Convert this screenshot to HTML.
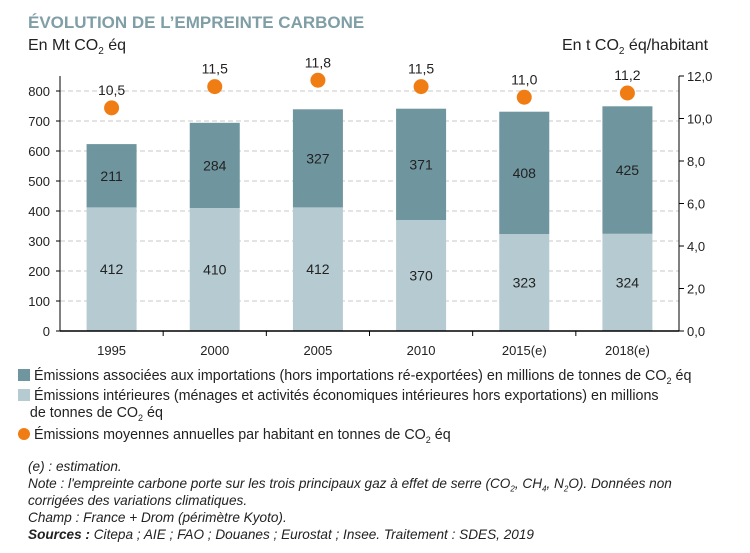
<!DOCTYPE html>
<html><head><meta charset="utf-8"><style>
body{margin:0;background:#fff;width:750px;height:553px;overflow:hidden;font-family:"Liberation Sans",sans-serif;position:relative}
.t{position:absolute;white-space:nowrap}
.lg{position:absolute;left:18px;font-size:14.3px;color:#222;white-space:nowrap;line-height:17px}
.nt{position:absolute;left:28px;font-size:13.6px;font-style:italic;color:#222;white-space:nowrap;line-height:17px}
</style></head><body>
<div class="t" style="left:28px;top:13px;font-size:17px;font-weight:bold;color:#7f9ea6">ÉVOLUTION DE L’EMPREINTE CARBONE</div>
<div class="t" style="left:28px;top:37px;font-size:16px;color:#222">En Mt CO<sub style="font-size:10px">2</sub> éq</div>
<div class="t" style="left:562px;top:37px;font-size:16px;color:#222">En t CO<sub style="font-size:10px">2</sub> éq/habitant</div>
<svg id="chart" width="750" height="360" style="position:absolute;left:0;top:0"></svg>
<div class="lg" style="top:368px"><span style="display:inline-block;width:12px;height:12px;background:#6f959f;vertical-align:-1px"></span> Émissions associées aux importations (hors importations ré-exportées) en millions de tonnes de CO<sub style="font-size:9px">2</sub> éq</div>
<div class="lg" style="top:388px"><span style="display:inline-block;width:12px;height:12px;background:#b5cbd1;vertical-align:-1px"></span> Émissions intérieures (ménages et activités économiques intérieures hors exportations) en millions<br>&nbsp;&nbsp;&nbsp;de tonnes de CO<sub style="font-size:9px">2</sub> éq</div>
<div class="lg" style="top:427px"><span style="display:inline-block;width:12px;height:12px;border-radius:50%;background:#f07d14;vertical-align:-1px"></span> Émissions moyennes annuelles par habitant en tonnes de CO<sub style="font-size:9px">2</sub> éq</div>
<div class="nt" style="top:458px">(e) : estimation.</div>
<div class="nt" style="top:475px">Note : l'empreinte carbone porte sur les trois principaux gaz à effet de serre (CO<sub style="font-size:8px;line-height:0">2</sub>, CH<sub style="font-size:8px;line-height:0">4</sub>, N<sub style="font-size:8px;line-height:0">2</sub>O). Données non<br>corrigées des variations climatiques.</div>
<div class="nt" style="top:509px">Champ : France + Drom (périmètre Kyoto).</div>
<div class="nt" style="top:526px"><b>Sources :</b> Citepa ; AIE ; FAO ; Douanes ; Eurostat ; Insee. Traitement : SDES, 2019</div>
<script>
const categories=["1995","2000","2005","2010","2015(e)","2018(e)"];
const domestic=[412,410,412,370,323,324];
const imports=[211,284,327,371,408,425];
const perCapita=[10.5,11.5,11.8,11.5,11.0,11.2];
const perCapitaLabels=["10,5","11,5","11,8","11,5","11,0","11,2"];
const leftTicks=[0,100,200,300,400,500,600,700,800];
const rightTicks=[0,2,4,6,8,10,12];
const rightTickLabels=["0,0","2,0","4,0","6,0","8,0","10,0","12,0"];
const NS="http://www.w3.org/2000/svg",svg=document.getElementById('chart');
const X0=60,X1=679,Y0=331;
const yL=v=>Y0-v*0.3, yR=v=>Y0-v*(255/12);
const step=(X1-X0)/categories.length, xc=i=>X0+step*(i+0.5);
function mk(t,a,p){const e=document.createElementNS(NS,t);for(const k in a)e.setAttribute(k,a[k]);(p||svg).appendChild(e);return e;}
leftTicks.forEach(v=>{
 if(v>0){const g=mk('line',{x1:X0,x2:X1,y1:yL(v),y2:yL(v),stroke:'#c8c8c8','stroke-dasharray':'5,3'});
 
 }
 mk('line',{x1:X0-4,x2:X0,y1:yL(v),y2:yL(v),stroke:'#000'});
 const t=mk('text',{x:X0-10,y:yL(v)+5,'text-anchor':'end','font-size':13,fill:'#222'});t.textContent=v;
 
 
});
rightTicks.forEach((v,i)=>{
 mk('line',{x1:X1,x2:X1+5,y1:yR(v),y2:yR(v),stroke:'#000'});
 const t=mk('text',{x:X1+8,y:yR(v)+5,'font-size':13,fill:'#222'});t.textContent=rightTickLabels[i];
 
 
});
categories.forEach((c,i)=>{
 const x=xc(i)-25;
 const b1=mk('rect',{x:x,width:50,y:yL(domestic[i]),height:yL(0)-yL(domestic[i]),fill:'#b5cbd1'});
 
 
 const b2=mk('rect',{x:x,width:50,y:yL(domestic[i]+imports[i]),height:yL(0)-yL(imports[i]),fill:'#6f959f'});
 
 
 let t=mk('text',{x:xc(i),y:(yL(0)+yL(domestic[i]))/2+5,'text-anchor':'middle','font-size':14,fill:'#222'});t.textContent=domestic[i];
 
 
 t=mk('text',{x:xc(i),y:(yL(domestic[i])+yL(domestic[i]+imports[i]))/2+5,'text-anchor':'middle','font-size':14,fill:'#222'});t.textContent=imports[i];
 
 
 const d=mk('circle',{cx:xc(i),cy:yR(perCapita[i]),r:7.5,fill:'#f07d14'});
 
 
 t=mk('text',{x:xc(i),y:yR(perCapita[i])-13,'text-anchor':'middle','font-size':14,fill:'#222'});t.textContent=perCapitaLabels[i];
 
 
 t=mk('text',{x:xc(i),y:Y0+24,'text-anchor':'middle','font-size':13,fill:'#222'});t.textContent=c;
 
 
 if(i>0)mk('line',{x1:X0+step*i,x2:X0+step*i,y1:Y0,y2:Y0+5,stroke:'#000'});
});
mk('line',{x1:X0,x2:X0,y1:76,y2:Y0,stroke:'#000'});
mk('line',{x1:X1,x2:X1,y1:76,y2:Y0,stroke:'#000'});
mk('line',{x1:X0,x2:X1,y1:Y0,y2:Y0,stroke:'#000','stroke-width':1.5});
</script>
</body></html>
